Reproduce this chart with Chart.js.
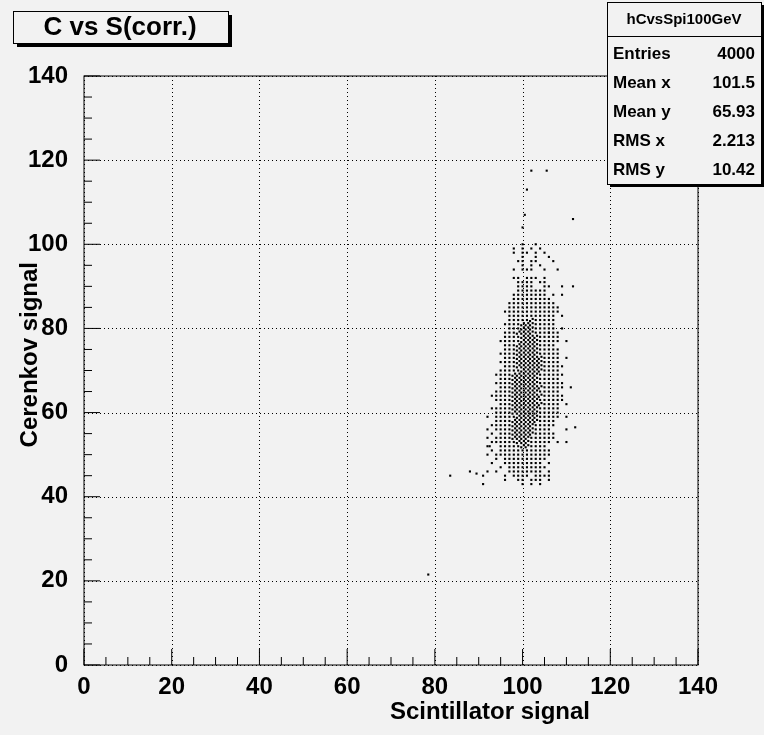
<!DOCTYPE html>
<html><head><meta charset="utf-8">
<script src="https://cdn.jsdelivr.net/npm/chart.js@4.4.0/dist/chart.umd.min.js"></script>
<style>html,body{margin:0;background:#f2f2f2}#wrap{width:764px;height:735px}</style>
</head><body><div id="wrap"><canvas id="c"></canvas></div>
<script>
// occupancy rows: x columns 90..111, '#' = dense cell
const colStart = 90;
const rowY = [100,99,98,97,96,95,94,92,91,90,89,88,87,86,85,84,83,82,81,80,79,78,77,76,75,74,73,72,71,70,
  69,68,67,66,65,64,63,62,61,60,59,58,57,56,55,54,53,52,51,50,49,48,47,46,45,44,43];
const rowCells = [
  "..........o..o........",
  "........o.o.o.o.......",
  "........o.oo.o.o......",
  "..........o..o..o.....",
  ".........oo.oo...o....",
  "..........o.o.o.......",
  "........o.ooo..o..o...",
  "........oo.ooo.o......",
  ".........oooo.oo......",
  ".........oooo..oo..o..",
  ".........ooooooo......",
  "........oooooooo.o....",
  "........ooooooooo.....",
  ".......ooooooooooo....",
  ".......oooooooooooo...",
  "......ooooooooooooo...",
  ".......ooooooooooo.o..",
  ".......ooooo#ooooo....",
  "......oooo###ooooo....",
  ".......ooo###ooooo.o..",
  "......ooo####oooooo...",
  "......oooo####ooooo...",
  ".....ooooo####ooooo.o.",
  "......ooo#####oooo....",
  "......ooo#####ooooo...",
  ".....oooo#####ooooo...",
  "......ooo######oooo.o.",
  ".....oooo######oooo...",
  "......ooo######ooooo..",
  ".....ooooo#####oooo...",
  "....oooo######oooooo..",
  ".....ooo######ooooo...",
  "....oooo######oooooo..",
  ".....ooo#######ooooo.o",
  "....oooo######ooooo...",
  "...ooooo#######ooooo..",
  "....oooo######oooooo..",
  ".....ooo#######oooo.o.",
  "...ooooo######ooooo...",
  "....oooo######ooooo...",
  "..o.ooooo#####ooooo.o.",
  "....oooo######oooo....",
  "...ooooo#####ooooo....",
  "..o.oooo#####oooo...o.",
  "...o.ooo#####ooooo....",
  "..o.oooo####oooooo....",
  "...oooooo###ooooo.o...",
  "..o..ooooo##oooo......",
  "...o.oooooooooooo.....",
  "..o.ooooooooooooo.....",
  "....o.oooooooooo......",
  "...o..ooooooooo.o.....",
  ".....o.ooooooooo......",
  "..o.o..oooooooo.o.....",
  ".o....o.oooo.oooo.....",
  "......o..oo.ooo.o.....",
  "..........o.o.o......."
];
// isolated points
const loneX = [102, 105.5, 101, 100.5, 111.5, 100, 111.5, 109, 106, 78.5, 83.5, 88, 89.5, 91, 92.5, 110, 112];
const loneY = [117.5, 117.5, 113, 107, 106, 104, 90, 88, 79, 21.5, 45, 46, 45.5, 43, 52, 53, 56.5];

const xTicks = [0, 20, 40, 60, 80, 100, 120, 140];
const yTicks = [0, 20, 40, 60, 80, 100, 120, 140];
const statLabels = ['Entries', 'Mean x', 'Mean y', 'RMS x', 'RMS y'];
const statValues = ['4000', '101.5', '65.93', '2.213', '10.42'];

const pts = [];
rowCells.forEach((row, r) => {
  [...row].forEach((ch, i) => {
    const x = colStart + i, y = rowY[r];
    if (ch === 'o') pts.push({ x, y });
    if (ch === '#') [[-.3,-.25],[.3,.25]].forEach(([dx, dy]) => pts.push({ x: x + dx, y: y + dy }));
  });
});
loneX.forEach((x, i) => pts.push({ x, y: loneY[i] }));

const FAM = '"Liberation Sans", Arial, sans-serif';

const decor = {
  id: 'decor',
  beforeDatasetsDraw(chart) {
    const { ctx, chartArea: a, scales: { x, y } } = chart;
    ctx.save();
    ctx.strokeStyle = '#000'; ctx.lineWidth = 1; ctx.setLineDash([1, 3]);
    ctx.beginPath();
    xTicks.forEach(v => { const px = Math.round(x.getPixelForValue(v)) + .5; ctx.moveTo(px, a.top); ctx.lineTo(px, a.bottom); });
    yTicks.forEach(v => { const py = Math.round(y.getPixelForValue(v)) + .5; ctx.moveTo(a.left, py); ctx.lineTo(a.right, py); });
    ctx.stroke();
    ctx.restore();
  },
  afterDraw(chart) {
    const { ctx, chartArea: a, scales: { x, y } } = chart;
    ctx.save();
    ctx.strokeStyle = '#000'; ctx.lineWidth = 1;
    ctx.strokeRect(a.left, a.top, a.right - a.left, a.bottom - a.top);
    // ticks inside frame
    ctx.beginPath();
    for (let v = 0; v <= 140; v += 5) {
      const px = x.getPixelForValue(v), len = v % 20 === 0 ? 16 : 8;
      ctx.moveTo(px, a.bottom); ctx.lineTo(px, a.bottom - len);
    }
    for (let v = 0; v <= 140; v += 5) {
      const py = y.getPixelForValue(v), len = v % 20 === 0 ? 16 : 8;
      ctx.moveTo(a.left, py); ctx.lineTo(a.left + len, py);
    }
    ctx.stroke();
    // axis titles
    ctx.fillStyle = '#000'; ctx.font = 'bold 24px ' + FAM;
    ctx.textAlign = 'right'; ctx.textBaseline = 'middle';
    ctx.fillText('Scintillator signal', 590, 712);
    ctx.save(); ctx.translate(30, 262); ctx.rotate(-Math.PI / 2);
    ctx.fillText('Cerenkov signal', 0, 0); ctx.restore();
    // title box
    ctx.fillStyle = '#000'; ctx.fillRect(17, 15, 215, 32);
    ctx.fillStyle = '#f2f2f2'; ctx.fillRect(13, 11, 215, 32);
    ctx.strokeRect(13.5, 11.5, 215, 32);
    ctx.fillStyle = '#000'; ctx.font = 'bold 26px ' + FAM;
    ctx.textAlign = 'center'; ctx.fillText('C vs S(corr.)', 120, 28);
    // stats box
    const bx = 607, by = 2, bw = 154, bh = 182;
    ctx.fillRect(bx + 3, by + 3, bw, bh);
    ctx.fillStyle = '#f2f2f2'; ctx.fillRect(bx, by, bw, bh);
    ctx.strokeRect(bx + .5, by + .5, bw, bh);
    ctx.beginPath(); ctx.moveTo(bx, by + 34.5); ctx.lineTo(bx + bw, by + 34.5); ctx.stroke();
    ctx.fillStyle = '#000'; ctx.font = 'bold 15px ' + FAM;
    ctx.fillText('hCvsSpi100GeV', bx + bw / 2, by + 18);
    ctx.font = 'bold 17px ' + FAM;
    statLabels.forEach((l, i) => {
      const yy = by + 52 + i * 29;
      ctx.textAlign = 'left'; ctx.fillText(l, bx + 6, yy);
      ctx.textAlign = 'right'; ctx.fillText(statValues[i], bx + bw - 6, yy);
    });
    ctx.restore();
  }
};

new Chart(document.getElementById('c'), {
  type: 'scatter',
  data: { datasets: [{ data: pts, pointStyle: 'rect', pointRadius: 1.5, backgroundColor: '#000', borderWidth: 0 }] },
  options: {
    responsive: true, maintainAspectRatio: false, animation: false,
    layout: { padding: { top: 76, right: 66, left: 0, bottom: 0 } },
    plugins: { legend: { display: false }, tooltip: { enabled: false } },
    scales: {
      x: {
        type: 'linear', min: 0, max: 140,
        afterBuildTicks: s => { s.ticks = xTicks.map(v => ({ value: v })); },
        afterFit: s => { s.height = 70; },
        grid: { display: false },
        border: { display: false },
        ticks: { color: '#000', font: { family: FAM, size: 24, weight: 'bold' }, padding: 0, maxRotation: 0 }
      },
      y: {
        type: 'linear', min: 0, max: 140,
        afterBuildTicks: s => { s.ticks = yTicks.map(v => ({ value: v })); },
        afterFit: s => { s.width = 84; },
        grid: { display: false },
        border: { display: false },
        ticks: { color: '#000', font: { family: FAM, size: 24, weight: 'bold' }, padding: 8 }
      }
    }
  },
  plugins: [decor]
});
</script></body></html>
